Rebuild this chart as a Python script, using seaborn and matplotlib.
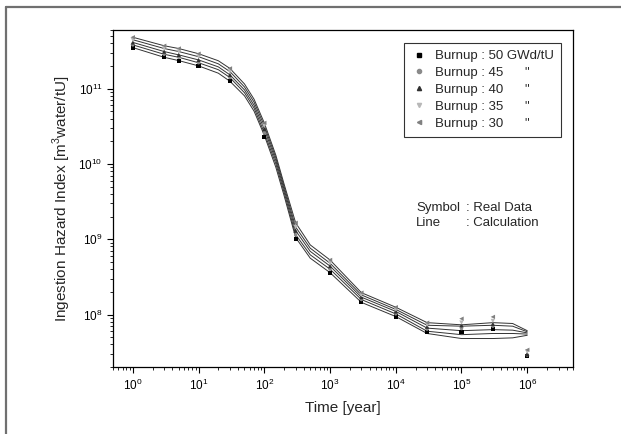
import numpy as np
import pandas as pd
import matplotlib
matplotlib.use("Agg")
import matplotlib.pyplot as plt
import seaborn as sns
from matplotlib.lines import Line2D

# symbol (real data) times and values, one array per burnup
sym_time = [1, 3, 5, 10, 30, 100, 300, 1e3, 3e3, 1e4, 3e4, 1e5, 3e5, 1e6]
sym_50 = [3.5e11, 2.6e11, 2.35e11, 2.0e11, 1.25e11, 2.3e10, 1.0e9, 3.6e8, 1.45e8, 9.4e7, 5.9e7, 5.9e7, 6.5e7, 2.8e7]
sym_45 = [3.8e11, 2.85e11, 2.6e11, 2.2e11, 1.4e11, 2.6e10, 1.15e9, 4.0e8, 1.58e8, 1.02e8, 6.4e7, 6.5e7, 7.0e7, 2.9e7]
sym_40 = [4.1e11, 3.1e11, 2.8e11, 2.4e11, 1.52e11, 2.9e10, 1.3e9, 4.4e8, 1.7e8, 1.1e8, 6.9e7, 7.2e7, 7.5e7, 3.0e7]
sym_35 = [4.45e11, 3.4e11, 3.1e11, 2.65e11, 1.68e11, 3.2e10, 1.45e9, 4.8e8, 1.82e8, 1.17e8, 7.3e7, 7.8e7, 8.2e7, 3.2e7]
sym_30 = [4.8e11, 3.7e11, 3.4e11, 2.9e11, 1.85e11, 3.5e10, 1.65e9, 5.3e8, 1.95e8, 1.25e8, 7.8e7, 8.8e7, 9.3e7, 3.4e7]

# calculation lines
calc_time = [1, 3, 5, 10, 20, 30, 50, 70, 100, 150, 200, 300, 500, 1e3, 3e3, 1e4, 3e4, 1e5, 3e5, 6e5, 1e6]
calc_50 = [3.5e11, 2.6e11, 2.35e11, 2.0e11, 1.6e11, 1.25e11, 8.0e10, 5.0e10, 2.4e10, 9.0e9, 3.8e9, 1.05e9, 5.6e8, 3.6e8, 1.45e8, 9.4e7, 5.6e7, 4.8e7, 4.8e7, 4.9e7, 5.3e7]
calc_45 = [3.8e11, 2.85e11, 2.6e11, 2.2e11, 1.78e11, 1.4e11, 8.8e10, 5.5e10, 2.6e10, 1.0e10, 4.2e9, 1.15e9, 6.2e8, 4.0e8, 1.58e8, 1.02e8, 6.0e7, 5.4e7, 5.6e7, 5.6e7, 5.5e7]
calc_40 = [4.1e11, 3.1e11, 2.8e11, 2.4e11, 1.94e11, 1.52e11, 9.6e10, 6.0e10, 2.9e10, 1.1e10, 4.6e9, 1.3e9, 6.9e8, 4.4e8, 1.7e8, 1.1e8, 6.6e7, 6.1e7, 6.3e7, 6.2e7, 5.7e7]
calc_35 = [4.45e11, 3.4e11, 3.1e11, 2.65e11, 2.13e11, 1.68e11, 1.05e11, 6.6e10, 3.2e10, 1.2e10, 5.0e9, 1.45e9, 7.6e8, 4.8e8, 1.82e8, 1.17e8, 7.2e7, 7.0e7, 7.2e7, 7.0e7, 5.9e7]
calc_30 = [4.8e11, 3.7e11, 3.4e11, 2.9e11, 2.34e11, 1.85e11, 1.15e11, 7.2e10, 3.5e10, 1.3e10, 5.4e9, 1.65e9, 8.4e8, 5.3e8, 1.95e8, 1.25e8, 7.8e7, 7.3e7, 7.8e7, 7.6e7, 6.1e7]

burnups = ["50", "45", "40", "35", "30"]
legend_labels = ['Burnup : 50 GWd/tU', 'Burnup : 45      "', 'Burnup : 40      "',
                 'Burnup : 35      "', 'Burnup : 30      "']

sym_df = pd.DataFrame({
    "time": sym_time * 5,
    "value": sym_50 + sym_45 + sym_40 + sym_35 + sym_30,
    "burnup": np.repeat(burnups, len(sym_time)),
})
calc_df = pd.DataFrame({
    "time": calc_time * 5,
    "value": calc_50 + calc_45 + calc_40 + calc_35 + calc_30,
    "burnup": np.repeat(burnups, len(calc_time)),
})

sns.set_style("ticks")
plt.rcParams["font.family"] = ["Liberation Sans", "DejaVu Sans"]
plt.rcParams["mathtext.fontset"] = "custom"
plt.rcParams["mathtext.rm"] = "Liberation Sans"

fig = plt.figure(figsize=(6.21, 4.34), dpi=100)
ax = fig.add_axes([0.182, 0.154, 0.741, 0.777])
ax.set_xscale("log")
ax.set_yscale("log")

sns.lineplot(data=calc_df, x="time", y="value", units="burnup", estimator=None,
             sort=False, color="#333333", lw=0.7, ax=ax, legend=False)

markers = {"50": "s", "45": "o", "40": "^", "35": "v", "30": "<"}
colors = {"50": "#000000", "45": "#8a8a8a", "40": "#303030", "35": "#b8b8b8", "30": "#808080"}
sizes = {"50": 9, "45": 6, "40": 10, "35": 10, "30": 10}
for b in burnups:
    sub = sym_df[sym_df["burnup"] == b]
    sns.scatterplot(data=sub, x="time", y="value", marker=markers[b], color=colors[b],
                    s=sizes[b], edgecolor="none", ax=ax, zorder=3)

ax.set_xlim(0.5, 5e6)
ax.set_ylim(2e7, 6e11)
ax.set_xticks([1, 10, 100, 1e3, 1e4, 1e5, 1e6])
ax.tick_params(which="major", direction="out", length=4, width=0.8, labelsize=8.5, colors="black")
ax.tick_params(which="minor", direction="out", length=2.5, width=0.7)
for s in ax.spines.values():
    s.set_linewidth(0.9)
    s.set_color("black")

ax.set_xlabel("Time [year]", fontsize=11, labelpad=6)
ax.set_ylabel("Ingestion Hazard Index [m$^3$water/tU]", fontsize=11, labelpad=4)

handles = [Line2D([], [], ls="none", marker=markers[b], color=colors[b], markersize=3)
           for b in burnups]
leg = ax.legend(handles, legend_labels, loc="upper right", bbox_to_anchor=(0.974, 0.962),
                borderaxespad=0, fontsize=9.5, frameon=True, fancybox=False,
                edgecolor="black", handlelength=1.2, handletextpad=0.6,
                labelspacing=0.35, borderpad=0.55)
leg.get_frame().set_linewidth(0.8)

ax.text(0.659, 0.462, "Symbol", transform=ax.transAxes, fontsize=9.5)
ax.text(0.766, 0.462, ": Real Data", transform=ax.transAxes, fontsize=9.5)
ax.text(0.659, 0.418, "Line", transform=ax.transAxes, fontsize=9.5)
ax.text(0.766, 0.418, ": Calculation", transform=ax.transAxes, fontsize=9.5)

# outer frame lines (top and left)
fig.add_artist(Line2D([0.01, 1.0], [0.985, 0.985], transform=fig.transFigure, color="#707070", lw=1.6))
fig.add_artist(Line2D([0.01, 0.01], [0.0, 0.985], transform=fig.transFigure, color="#707070", lw=1.6))

fig.savefig("out.png", dpi=100)
